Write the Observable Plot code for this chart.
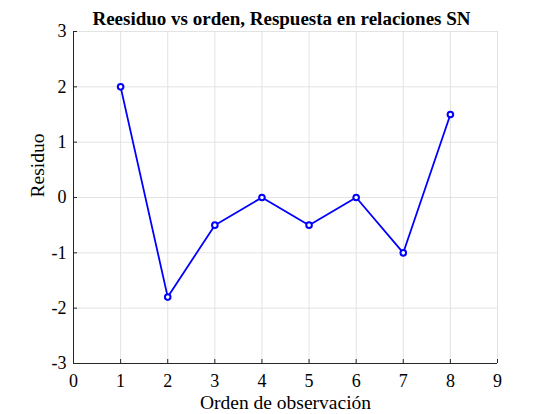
<!DOCTYPE html>
<html><head><meta charset="utf-8">
<script src="https://cdn.jsdelivr.net/npm/d3@7"></script>
<script src="https://cdn.jsdelivr.net/npm/@observablehq/plot@0.6"></script>
<style>body{margin:0;background:#fff;} svg{display:block;}</style>
</head><body><div id="chart"></div>
<script>
const orden = [1, 2, 3, 4, 5, 6, 7, 8];
const residuo = [2, -1.8, -0.5, 0, -0.5, 0, -1, 1.5];
const xTicks = [0, 1, 2, 3, 4, 5, 6, 7, 8, 9];
const yTicks = [-3, -2, -1, 0, 1, 2, 3];
const title = "Reesiduo vs orden, Respuesta en relaciones SN";
const xLabel = "Orden de observación";
const yLabel = "Residuo";

const data = orden.map((o, i) => ({orden: o, residuo: residuo[i]}));
const serif = "'Liberation Serif', 'Times New Roman', Times, serif";
const W = 550, H = 414, ML = 73, MR = 53, MT = 31, MB = 51;
const tick = 4;

const chart = Plot.plot({
  width: W, height: H,
  marginLeft: ML, marginRight: MR, marginTop: MT, marginBottom: MB,
  style: {fontFamily: serif, fontSize: "18px", background: "white", color: "black"},
  x: {domain: [0, 9]},
  y: {domain: [-3, 3]},
  marks: [
    Plot.gridX(xTicks, {stroke: "#dcdcdc", strokeOpacity: 1, strokeWidth: 0.8}),
    Plot.gridY(yTicks, {stroke: "#dcdcdc", strokeOpacity: 1, strokeWidth: 0.8}),
    Plot.axisX(xTicks, {tickSize: 0, tickPadding: 11, label: null, tickFormat: d => String(d), fontSize: 18}),
    Plot.axisY(yTicks, {tickSize: 0, tickPadding: 7, label: null, tickFormat: d => String(d), fontSize: 18}),
    Plot.ruleX(xTicks, {stroke: "#262626", strokeWidth: 1, insetTop: H - MT - MB - tick}),
    Plot.ruleY(yTicks, {stroke: "#262626", strokeWidth: 1, insetRight: W - ML - MR - tick}),
    Plot.ruleX([0], {stroke: "#262626", strokeWidth: 1}),
    Plot.ruleY([-3], {stroke: "#262626", strokeWidth: 1}),
    Plot.line(data, {x: "orden", y: "residuo", stroke: "#0000ff", strokeWidth: 1.8}),
    Plot.dot(data, {x: "orden", y: "residuo", r: 2.8, stroke: "#0000ff", strokeWidth: 2, fill: "white"}),
    Plot.text([title], {frameAnchor: "top", lineAnchor: "middle", dx: -4, dy: -13, text: d => d, fontWeight: "bold", fontSize: 19}),
    Plot.text([xLabel], {frameAnchor: "bottom", lineAnchor: "middle", dy: 39, text: d => d, fontSize: 19.5}),
    Plot.text([yLabel], {frameAnchor: "left", lineAnchor: "middle", dx: -36, rotate: -90, text: d => d, fontSize: 19.5})
  ]
});
document.getElementById("chart").append(chart);
</script></body></html>
